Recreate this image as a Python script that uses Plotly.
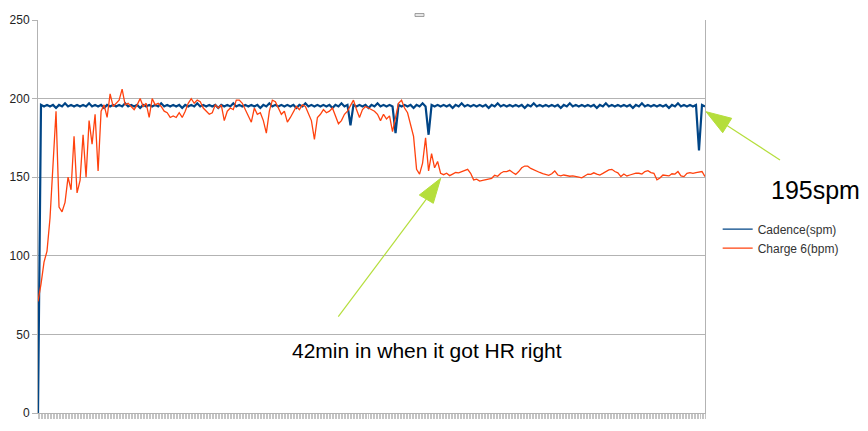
import plotly.graph_objects as go

#==================================================================#
# values, one sample every ~3 px of plot width
#==================================================================#

cadence_spm = [
    0, 196, 195, 196, 195, 196, 194, 196, 195, 197,
    195, 196, 195, 196, 195, 196, 195, 197, 195, 196,
    195, 196, 194, 196, 195, 196, 195, 196, 195, 197,
    195, 196, 195, 196, 194, 196, 195, 196, 195, 196,
    195, 197, 195, 196, 195, 196, 195, 196, 194, 196,
    195, 196, 195, 197, 195, 196, 195, 196, 195, 196,
    194, 196, 195, 196, 195, 197, 195, 196, 195, 196,
    195, 196, 195, 196, 194, 196, 195, 197, 195, 196,
    195, 196, 195, 196, 195, 196, 194, 196, 195, 197,
    195, 196, 195, 196, 195, 196, 195, 196, 194, 196,
    195, 197, 195, 196, 183, 196, 195, 196, 195, 196,
    194, 196, 195, 197, 195, 196, 195, 196, 195, 178,
    196, 195, 196, 195, 196, 194, 196, 195, 197, 195,
    177, 196, 195, 196, 195, 196, 195, 196, 194, 196,
    195, 197, 195, 196, 195, 196, 195, 196, 195, 196,
    194, 196, 195, 197, 195, 196, 195, 196, 195, 196,
    195, 196, 194, 196, 195, 197, 195, 196, 195, 196,
    195, 196, 195, 196, 194, 196, 195, 197, 195, 196,
    195, 196, 195, 196, 195, 196, 194, 196, 195, 197,
    195, 196, 195, 196, 195, 196, 195, 196, 194, 196,
    195, 197, 195, 196, 195, 196, 195, 196, 195, 196,
    194, 196, 195, 197, 195, 196, 195, 196, 195, 196,
    167, 196, 195,
]

heart_rate_bpm = [
    71, 82, 96, 103, 124, 160, 192, 131, 128, 134,
    150, 142, 176, 140, 148, 177, 150, 186, 171, 190,
    154, 192, 196, 188, 203, 195, 197, 199, 206, 196,
    197, 195, 193, 196, 200, 195, 197, 188, 200, 196,
    197, 195, 192, 191, 188, 189, 188, 191, 188, 192,
    197, 200, 197, 199, 198, 194, 192, 190, 191, 196,
    194, 196, 186, 192, 194, 193, 199, 199, 197, 193,
    189, 185, 194, 190, 191, 186, 178, 192, 199, 198,
    194, 190, 192, 185, 188, 192, 195, 193, 196, 195,
    191, 186, 174, 188, 190, 193, 191, 192, 194, 189,
    184, 186, 190, 192, 196, 199, 193, 188, 193, 195,
    194, 193, 192, 190, 186, 190, 187, 189, 179, 188,
    197, 199, 194, 191, 184, 176, 155, 152, 159, 175,
    154, 165, 156, 160, 152.5, 151.6, 152.5, 151, 152, 153,
    152.8, 153.6, 154, 155, 152.5, 148.3, 148.8, 147.5, 148, 148.5,
    148.6, 149.3, 151.2, 150.6, 152.5, 153.6, 153.6, 154.4, 153, 151.8,
    153.6, 156, 157.1, 157, 155.6, 154.6, 153.8, 153, 152.3, 151.7,
    151.2, 152.2, 154, 151.4, 150.8, 151.4, 150.9, 150.6, 150.8, 150.6,
    150, 149.6, 151, 152, 151.8, 152.8, 152, 151.4, 152.4, 153.5,
    154.6, 155, 153.6, 152.8, 150.4, 152, 150.8, 151.4, 152.2, 152.6,
    152.5, 152, 153.6, 154.2, 152.9, 152.5, 148.3, 149.5, 151.4, 151,
    150.8, 152.2, 152, 153.6, 150.8, 150.4, 152.5, 152.9, 152.5, 152.9,
    153.3, 153.6, 150.4,
]

sample = list(range(len(cadence_spm)))

y_ticks = [0, 50, 100, 150, 200, 250]
series_names = ["Cadence(spm)", "Charge 6(bpm)"]
series_colors = ["#004586", "#ff420e"]
note_cadence = "195spm"
note_hr = "42min in when it got HR right"

#==================================================================#

W, H = 868, 431
PAGE = 8  # the page body keeps its default 8px margin
L, R, T, B = 38, 705, 20, 413
GRID = "#b3b3b3"
ARROW = "#b5de3c"


def px(x, y):
    # pixel position on the screenshot -> paper coordinates
    return (x - L) / (R - L), (B - y) / (B - T)


def arrowShapes(tail, base, tip, left, right):
    x0, y0 = px(*tail)
    x1, y1 = px(*base)
    a, b = px(*tip)
    c, d = px(*left)
    e, f = px(*right)
    line = dict(type="line", xref="paper", yref="paper", x0=x0, y0=y0, x1=x1, y1=y1,
                line=dict(color=ARROW, width=1.2))
    head = dict(type="path", xref="paper", yref="paper", path=f"M{a},{b} L{c},{d} L{e},{f} Z",
                fillcolor=ARROW, line=dict(color=ARROW, width=1))
    return [line, head]


fig = go.Figure()
fig.add_trace(go.Scatter(x=sample, y=cadence_spm, mode="lines", showlegend=False,
                         line=dict(color=series_colors[0], width=2.2)))
fig.add_trace(go.Scatter(x=sample, y=heart_rate_bpm, mode="lines", showlegend=False,
                         line=dict(color=series_colors[1], width=1.3)))
# thin legend keys, like the spreadsheet legend
for name, color in zip(series_names, series_colors):
    fig.add_trace(go.Scatter(x=[None], y=[None], mode="lines", name=name,
                             line=dict(color=color, width=1.2)))

shapes = arrowShapes((780, 160), (727, 125.5), (706, 111.7), (731.7, 118.3), (722.7, 132.7))
shapes += arrowShapes((338.3, 316.7), (426.3, 199.2), (440.7, 178.3), (419.3, 195), (433.3, 203.3))
sx0, sy0 = px(415, 13.5)
sx1, sy1 = px(424, 16.5)
shapes.append(dict(type="rect", xref="paper", yref="paper", x0=sx0, y0=sy0, x1=sx1, y1=sy1,
                   fillcolor="#e6e6e6", line=dict(color="#8c8c8c", width=0.8)))

ax1, ay1 = px(815, 190)
ax2, ay2 = px(427, 350)

fig.update_layout(
    width=W - PAGE, height=H - PAGE,
    margin=dict(l=L - PAGE, r=W - R, t=T - PAGE, b=H - B, autoexpand=False),
    paper_bgcolor="white", plot_bgcolor="white",
    font=dict(family="Liberation Sans, Arial, sans-serif", color="#222222"),
    showlegend=True,
    legend=dict(x=1.019, y=0.505, xanchor="left", yanchor="top", font=dict(size=12, color="#333333"),
                bgcolor="rgba(0,0,0,0)"),
    shapes=shapes,
    annotations=[
        dict(xref="paper", yref="paper", x=ax1, y=ay1, text=note_cadence, showarrow=False,
             xanchor="center", yanchor="middle", font=dict(size=25, color="black")),
        dict(xref="paper", yref="paper", x=ax2, y=ay2, text=note_hr, showarrow=False,
             xanchor="center", yanchor="middle", font=dict(size=21, color="black")),
    ],
)
fig.update_xaxes(range=[0, len(sample) - 1], showgrid=False, zeroline=False,
                 showline=True, linecolor=GRID, linewidth=1,
                 tickmode="linear", tick0=0, dtick=0.5, ticks="outside", ticklen=5,
                 tickcolor="#c4c4c4", tickwidth=1, showticklabels=False)
fig.update_yaxes(range=[0, 250], tickvals=y_ticks, showgrid=True, gridcolor=GRID, gridwidth=1,
                 zeroline=False, showline=True, mirror=True, linecolor=GRID, linewidth=1,
                 ticks="outside", ticklen=5, tickcolor=GRID, tickfont=dict(size=12, color="#222222"))

fig.write_html("out.html")
